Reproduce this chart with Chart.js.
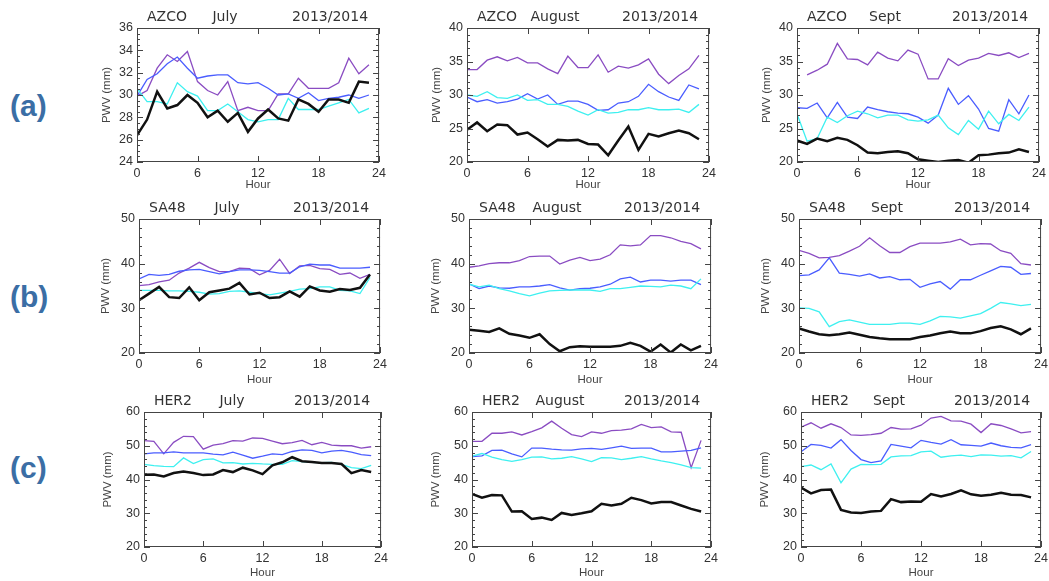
<!DOCTYPE html>
<html>
<head>
<meta charset="utf-8">
<title>PWV diurnal cycle 2013/2014</title>
<script src="https://cdn.jsdelivr.net/npm/chart.js@4.4.1/dist/chart.umd.min.js"></script>
<style>
  body { margin:0; background:#fff; width:1049px; height:581px; overflow:hidden; position:relative; }
  canvas { position:absolute; }
  .tag { position:absolute; font-family:"Liberation Sans", Arial, sans-serif; font-weight:bold;
         font-size:30px; line-height:30px; color:#3b6ea5; }
</style>
</head>
<body>
<div class="tag" style="left:10px;top:91px">(a)</div>
<div class="tag" style="left:10px;top:282px">(b)</div>
<div class="tag" style="left:10px;top:453px">(c)</div>

<canvas id="a1"></canvas><canvas id="a2"></canvas><canvas id="a3"></canvas>
<canvas id="b1"></canvas><canvas id="b2"></canvas><canvas id="b3"></canvas>
<canvas id="c1"></canvas><canvas id="c2"></canvas><canvas id="c3"></canvas>

<script>
// hours of day
const hours = [0,1,2,3,4,5,6,7,8,9,10,11,12,13,14,15,16,17,18,19,20,21,22,23];
const xTicks = [0, 6, 12, 18, 24];
const yTicksA1 = [24, 26, 28, 30, 32, 34, 36];
const yTicksA = [20, 25, 30, 35, 40];
const yTicksB = [20, 30, 40, 50];
const yTicksC = [20, 30, 40, 50, 60];

// AZCO July
const azcoJulBlack  = [26.4,27.8,30.3,28.8,29.1,30.0,29.3,28.0,28.6,27.6,28.4,26.7,27.9,28.7,27.9,27.7,29.6,29.2,28.5,29.6,29.6,29.3,31.2,31.1];
const azcoJulCyan   = [30.6,29.4,29.4,29.2,31.1,30.3,29.9,28.6,28.6,29.2,28.5,27.8,27.6,27.8,27.8,29.7,28.7,28.7,28.7,29.0,29.3,29.6,28.4,28.8];
const azcoJulBlue   = [29.9,31.4,31.9,32.8,33.4,32.4,31.5,31.7,31.8,31.8,31.1,31.0,31.1,30.6,30.0,30.1,29.7,30.2,29.5,29.7,29.8,30.0,29.7,30.0];
const azcoJulPurple = [29.9,30.4,32.4,33.6,33.0,33.9,31.2,30.4,30.0,31.2,28.6,28.9,28.6,28.6,30.1,30.1,31.5,30.6,30.6,30.6,31.1,33.3,31.9,32.7];
// AZCO August
const azcoAugBlack  = [24.8,25.9,24.6,25.6,25.5,24.1,24.4,23.4,22.3,23.3,23.2,23.3,22.7,22.6,21.0,23.2,25.3,21.8,24.2,23.8,24.3,24.7,24.3,23.4];
const azcoAugCyan   = [30.0,29.8,30.5,29.6,29.5,30.0,29.2,29.3,28.6,28.6,28.3,27.6,27.0,27.8,27.3,27.4,27.8,27.8,28.1,27.8,27.8,27.9,27.4,28.6];
const azcoAugBlue   = [29.7,29.0,29.3,28.8,29.0,29.4,30.2,29.4,30.0,28.6,29.1,29.1,28.6,27.7,27.8,28.8,29.0,29.8,31.6,30.5,29.7,29.2,31.5,30.9];
const azcoAugPurple = [33.8,33.8,35.2,35.7,35.1,35.6,34.8,34.8,33.9,33.2,35.8,34.1,34.1,36.0,33.4,34.3,34.0,34.5,35.4,33.1,31.7,32.9,33.9,35.9];
// AZCO Sept
const azcoSepBlack  = [23.2,22.7,23.5,23.1,23.6,23.3,22.5,21.4,21.3,21.5,21.6,21.3,20.4,20.2,20.0,20.2,20.3,19.9,21.0,21.1,21.3,21.4,21.9,21.5];
const azcoSepCyan   = [27.2,23.1,23.5,26.7,25.9,26.9,27.6,27.2,26.6,27.0,27.0,26.3,26.1,26.3,27.0,25.1,24.1,26.2,24.9,27.6,25.7,27.1,26.2,28.2];
const azcoSepBlue   = [28.1,28.0,28.8,26.6,28.9,26.7,26.5,28.2,27.8,27.5,27.3,27.2,26.7,25.8,27.0,31.0,28.6,29.9,27.9,25.0,24.6,29.3,27.2,30.0];
const azcoSepPurple = [null,33.0,33.7,34.6,37.7,35.4,35.3,34.5,36.4,35.5,35.1,36.7,36.1,32.4,32.4,35.4,34.4,35.2,35.5,36.2,35.9,36.3,35.6,36.2];
// SA48 July
const sa48JulBlack  = [31.8,33.3,34.8,32.5,32.3,34.7,31.8,33.6,34.0,34.4,35.7,33.1,33.5,32.3,32.5,33.8,32.6,34.9,34.0,33.7,34.3,34.1,34.6,37.6];
const sa48JulCyan   = [34.0,34.0,34.0,33.9,33.9,33.8,33.6,33.2,33.3,33.8,33.9,33.6,33.3,33.0,33.4,33.8,34.3,34.4,34.8,34.8,34.0,33.9,33.3,36.9];
const sa48JulBlue   = [36.6,37.6,37.4,37.6,38.3,38.6,38.7,38.2,37.7,38.2,38.6,38.6,38.5,38.2,37.9,37.9,39.3,39.9,39.7,39.7,39.0,39.0,39.0,39.2];
const sa48JulPurple = [35.1,35.3,35.9,36.3,37.9,39.0,40.3,39.1,38.2,38.2,39.0,38.9,37.5,38.5,41.0,37.8,39.5,39.6,38.9,38.7,37.6,37.9,36.7,37.6];
// SA48 August
const sa48AugBlack  = [25.2,25.0,24.7,25.5,24.3,23.9,23.4,24.2,22.0,20.4,21.3,21.5,21.4,21.4,21.4,21.6,22.3,21.6,20.3,21.9,20.1,21.9,20.6,21.6];
const sa48AugCyan   = [35.4,34.8,35.2,34.4,33.9,33.3,32.8,33.4,33.9,34.0,34.1,34.1,34.1,33.8,34.4,34.4,34.7,35.0,34.9,34.8,35.2,35.0,34.4,36.6];
const sa48AugBlue   = [35.5,34.4,35.0,34.6,34.5,34.8,34.8,35.0,35.3,34.6,34.1,34.4,34.5,34.8,35.4,36.6,37.0,35.9,36.3,36.3,36.1,36.3,36.3,35.3];
const sa48AugPurple = [39.2,39.5,40.0,40.2,40.2,40.7,41.6,41.7,41.7,39.9,40.8,41.4,40.7,41.0,42.0,44.2,44.0,44.2,46.3,46.3,45.8,45.0,44.5,43.3];
// SA48 Sept
const sa48SepBlack  = [25.5,24.8,24.2,24.0,24.2,24.6,24.1,23.6,23.3,23.1,23.1,23.1,23.6,23.9,24.4,24.8,24.4,24.4,24.9,25.6,26.0,25.3,24.2,25.5];
const sa48SepCyan   = [30.1,30.0,29.2,25.9,27.0,27.4,26.9,26.4,26.4,26.4,26.7,26.7,26.4,27.2,28.2,28.1,27.8,28.3,28.8,30.0,31.3,31.0,30.6,30.9];
const sa48SepBlue   = [37.3,37.5,38.6,41.3,37.9,37.6,37.2,37.7,36.8,37.1,36.4,36.5,34.7,35.5,36.0,34.3,36.4,36.4,37.4,38.4,39.4,39.2,37.6,37.8];
const sa48SepPurple = [43.0,42.3,41.3,41.4,41.8,42.8,43.9,45.8,44.0,42.5,42.5,43.8,44.6,44.6,44.6,44.9,45.5,44.2,44.5,44.4,42.9,42.3,40.0,39.7];
// HER2 July
const her2JulBlack  = [41.4,41.5,40.9,41.9,42.4,41.9,41.3,41.5,42.8,42.2,43.5,42.7,41.6,44.2,45.1,46.6,45.4,45.2,44.9,44.9,44.6,41.9,42.8,42.2];
const her2JulCyan   = [44.5,44.1,43.9,43.8,46.4,44.7,45.9,46.1,44.9,45.0,44.6,44.8,44.6,44.5,44.5,45.6,45.3,45.1,45.0,45.1,44.5,43.5,43.2,44.2];
const her2JulBlue   = [47.6,47.9,47.9,48.2,47.9,47.9,47.9,47.5,47.3,48.1,47.2,46.3,46.9,47.6,47.4,48.3,48.8,48.6,47.9,48.4,48.6,48.1,47.4,47.1];
const her2JulPurple = [51.5,51.3,47.6,51.0,52.8,52.7,49.0,50.2,50.6,51.5,51.4,52.3,52.2,51.4,50.6,50.9,51.6,50.3,51.0,50.2,50.0,50.0,49.3,49.7];
// HER2 August
const her2AugBlack  = [35.7,34.6,35.4,35.3,30.5,30.6,28.3,28.7,28.0,30.1,29.5,30.0,30.6,32.8,32.3,32.8,34.6,33.9,32.9,33.3,33.3,32.3,31.3,30.5];
const her2AugCyan   = [46.9,47.7,46.6,45.9,45.4,45.9,46.6,46.7,46.1,46.3,46.8,46.1,45.3,46.5,46.4,45.9,46.3,46.8,46.1,45.5,45.0,44.3,43.5,43.4];
const her2AugBlue   = [46.8,47.0,48.6,48.7,47.6,46.7,49.3,49.3,49.0,48.8,48.7,49.1,49.2,48.9,49.4,49.9,49.2,49.3,49.3,48.2,48.2,48.4,48.6,49.4];
const her2AugPurple = [51.3,51.3,53.7,53.7,54.1,53.2,54.2,55.3,57.3,55.2,53.3,52.7,54.1,53.7,54.5,54.6,55.0,56.3,55.4,55.6,54.1,54.0,43.5,51.6];
// HER2 Sept
const her2SepBlack  = [37.6,35.9,36.9,37.0,31.0,30.2,30.1,30.5,30.7,34.2,33.3,33.5,33.4,35.7,35.0,35.7,36.8,35.6,35.2,35.5,36.1,35.5,35.4,34.7];
const her2SepCyan   = [43.8,44.3,42.9,44.6,39.0,43.1,44.5,44.4,44.5,46.7,47.0,47.1,48.2,48.4,46.6,47.0,47.2,46.8,47.3,47.2,46.9,47.1,46.4,48.3];
const her2SepBlue   = [48.2,50.4,50.1,49.3,51.8,48.6,45.9,45.0,45.5,50.4,49.9,49.4,51.6,51.0,50.5,51.8,50.3,50.1,49.9,50.8,50.0,49.5,49.4,50.3];
const her2SepPurple = [55.5,56.8,55.2,56.5,55.4,53.2,53.1,53.3,53.7,55.4,54.9,55.0,56.1,58.2,58.7,57.4,57.3,56.4,53.9,56.5,56.0,55.0,53.8,54.2];

const colBlack = '#111111', colCyan = '#3ef0f0', colBlue = '#4a5dff', colPurple = '#8a4cc2';
const tickFont = { family: '"Liberation Sans", Arial, sans-serif', size: 12.5 };
const titleFont = { family: '"Liberation Sans", Arial, sans-serif', size: 11.5 };
const YAXIS_W = 46, XAXIS_H = 34, PAD_TOP = 22, PAD_RIGHT = 10;

// IDL style box: frame, inward ticks and the three-part title
const idlFrame = {
  id: 'idlFrame',
  afterDatasetsDraw(chart, args, o) {
    const { ctx, chartArea: a } = chart;
    const x = chart.scales.x, y = chart.scales.y;
    ctx.save();
    ctx.strokeStyle = '#444';
    ctx.lineWidth = 1;
    ctx.strokeRect(a.left + 0.5, a.top + 0.5, a.right - a.left - 1, a.bottom - a.top - 1);
    ctx.beginPath();
    o.yTicks.forEach(v => {
      const py = Math.round(y.getPixelForValue(v)) + 0.5;
      ctx.moveTo(a.left, py); ctx.lineTo(a.left + 6, py);
      ctx.moveTo(a.right, py); ctx.lineTo(a.right - 6, py);
    });
    const n = Math.round((y.max - y.min) / o.yMinor);
    for (let i = 1; i < n; i++) {
      const py = Math.round(y.getPixelForValue(y.min + i * o.yMinor)) + 0.5;
      ctx.moveTo(a.left, py); ctx.lineTo(a.left + 3, py);
      ctx.moveTo(a.right, py); ctx.lineTo(a.right - 3, py);
    }
    xTicks.forEach(v => {
      const px = Math.round(x.getPixelForValue(v)) + 0.5;
      ctx.moveTo(px, a.bottom); ctx.lineTo(px, a.bottom - 6);
      ctx.moveTo(px, a.top); ctx.lineTo(px, a.top + 6);
    });
    ctx.stroke();

    ctx.fillStyle = '#333';
    ctx.font = '14px "DejaVu Sans", sans-serif';
    ctx.textBaseline = 'middle';
    const ty = a.top - 11;
    ctx.textAlign = 'left';
    ctx.fillText(o.station, a.left + 10, ty);
    ctx.textAlign = 'center';
    ctx.fillText(o.month, a.left + 88, ty);
    ctx.textAlign = 'right';
    ctx.fillText('2013/2014', a.right - 11, ty);
    ctx.restore();
  }
};

function line(vals, color, width) {
  return {
    data: hours.map((h, i) => ({ x: h, y: vals[i] })),
    borderColor: color,
    borderWidth: width,
    pointRadius: 0,
    tension: 0,
    fill: false
  };
}

function panel(id, frame, station, month, yMin, yMax, yTicks, yMinor, yTitleOff, xTitleOff, series) {
  const cv = document.getElementById(id);
  const w = (frame.r - frame.l) + YAXIS_W + PAD_RIGHT;
  const h = (frame.b - frame.t) + PAD_TOP + XAXIS_H;
  cv.width = w; cv.height = h;
  cv.style.left = (frame.l - YAXIS_W) + 'px';
  cv.style.top = (frame.t - PAD_TOP) + 'px';

  new Chart(cv, {
    type: 'line',
    data: {
      datasets: [
        line(series[0], colBlack, 2.5),
        line(series[1], colCyan, 1.3),
        line(series[2], colBlue, 1.3),
        line(series[3], colPurple, 1.3)
      ]
    },
    options: {
      responsive: false,
      animation: false,
      devicePixelRatio: 1,
      layout: { padding: { top: PAD_TOP, right: PAD_RIGHT, left: 0, bottom: 0 } },
      plugins: {
        legend: { display: false },
        tooltip: { enabled: false },
        idlFrame: { station: station, month: month, yTicks: yTicks, yMinor: yMinor }
      },
      scales: {
        x: {
          type: 'linear', min: 0, max: 24,
          afterBuildTicks: (ax) => { ax.ticks = xTicks.map(v => ({ value: v })); },
          afterFit: (ax) => { ax.height = XAXIS_H; },
          grid: { display: false, drawTicks: false },
          border: { display: false },
          ticks: { font: tickFont, color: '#333', padding: 4, maxRotation: 0, autoSkip: false },
          title: { display: true, text: 'Hour', color: '#444', font: titleFont,
                   padding: { top: 0, bottom: XAXIS_H - 6.9 - xTitleOff } }
        },
        y: {
          type: 'linear', min: yMin, max: yMax,
          afterBuildTicks: (ax) => { ax.ticks = yTicks.map(v => ({ value: v })); },
          afterFit: (ax) => { ax.width = YAXIS_W; },
          grid: { display: false, drawTicks: false },
          border: { display: false },
          ticks: { font: tickFont, color: '#333', padding: 4, autoSkip: false },
          title: { display: true, text: 'PWV (mm)', color: '#444', font: titleFont,
                   padding: { top: YAXIS_W - 6.9 - yTitleOff, bottom: 0 } }
        }
      }
    },
    plugins: [idlFrame]
  });
}

panel('a1', { l: 137, t: 28, r: 380, b: 162 }, 'AZCO', 'July', 24, 36, yTicksA1, 0.5, 30, 23,
      [azcoJulBlack, azcoJulCyan, azcoJulBlue, azcoJulPurple]);
panel('a2', { l: 467, t: 28, r: 710, b: 162 }, 'AZCO', 'August', 20, 40, yTicksA, 1, 30, 23,
      [azcoAugBlack, azcoAugCyan, azcoAugBlue, azcoAugPurple]);
panel('a3', { l: 797, t: 28, r: 1040, b: 162 }, 'AZCO', 'Sept', 20, 40, yTicksA, 1, 30, 23,
      [azcoSepBlack, azcoSepCyan, azcoSepBlue, azcoSepPurple]);

panel('b1', { l: 139, t: 219, r: 381, b: 353 }, 'SA48', 'July', 20, 50, yTicksB, 2, 33, 27,
      [sa48JulBlack, sa48JulCyan, sa48JulBlue, sa48JulPurple]);
panel('b2', { l: 469, t: 219, r: 712, b: 353 }, 'SA48', 'August', 20, 50, yTicksB, 2, 33, 27,
      [sa48AugBlack, sa48AugCyan, sa48AugBlue, sa48AugPurple]);
panel('b3', { l: 799, t: 219, r: 1042, b: 353 }, 'SA48', 'Sept', 20, 50, yTicksB, 2, 33, 27,
      [sa48SepBlack, sa48SepCyan, sa48SepBlue, sa48SepPurple]);

panel('c1', { l: 144, t: 412, r: 382, b: 547 }, 'HER2', 'July', 20, 60, yTicksC, 2, 36, 26,
      [her2JulBlack, her2JulCyan, her2JulBlue, her2JulPurple]);
panel('c2', { l: 472, t: 412, r: 712, b: 547 }, 'HER2', 'August', 20, 60, yTicksC, 2, 36, 26,
      [her2AugBlack, her2AugCyan, her2AugBlue, her2AugPurple]);
panel('c3', { l: 801, t: 412, r: 1042, b: 547 }, 'HER2', 'Sept', 20, 60, yTicksC, 2, 36, 26,
      [her2SepBlack, her2SepCyan, her2SepBlue, her2SepPurple]);
</script>
</body>
</html>
